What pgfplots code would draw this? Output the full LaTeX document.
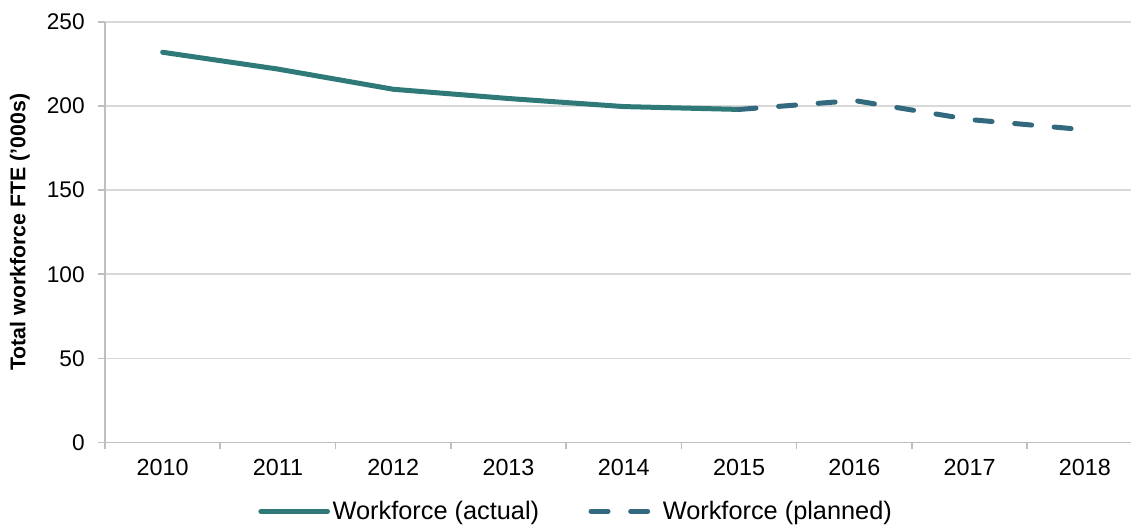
\documentclass[border=0pt]{standalone}
\usepackage{fontspec}
\setmainfont{Liberation Sans}
\usepackage{pgfplots}
\pgfplotsset{compat=1.18}
\definecolor{Actual}{HTML}{2F7A78}
\definecolor{Planned}{HTML}{33697F}
\definecolor{GridGrey}{HTML}{D9D9D9}
\definecolor{AxisGrey}{HTML}{BFBFBF}

\begin{document}
\begin{tikzpicture}
\begin{axis}[name=ax, scale only axis,
  width=769.5pt, height=315.3pt,
  xmin=-0.5, xmax=8.4, ymin=0, ymax=250,
  axis x line=bottom, axis y line=left,
  axis line style={-, draw=AxisGrey, line width=1.2pt},
  xtick={0,1,2,3,4,5,6,7,8},
  xticklabels={2010,2011,2012,2013,2014,2015,2016,2017,2018},
  minor xtick={-0.5,0.5,1.5,2.5,3.5,4.5,5.5,6.5,7.5},
  ytick={0,50,100,150,200,250},
  tick align=outside, major tick length=5.25pt, minor tick length=5.25pt,
  tick style={AxisGrey, line width=1.2pt},
  major x tick style={draw=none},
  ymajorgrids, grid style={GridGrey, line width=1.2pt},
  /pgf/number format/assume math mode=true,
  xticklabel style={font=\fontsize{17.5}{20}\selectfont},
  yticklabel style={font=\fontsize{17}{20}\selectfont},
  xticklabel shift=4pt, yticklabel shift=6.5pt,
  ylabel={Total workforce FTE ('000s)},
  ylabel style={at={(axis description cs:-0.0829,0.5)}, anchor=center,
    font=\bfseries\fontsize{16}{19}\selectfont},
  legend style={draw=none, at={(axis description cs:0.4595,-0.164)}, anchor=center,
    font=\fontsize{19}{22}\selectfont, inner sep=0pt,
    /tikz/every even column/.append style={column sep=35pt}},
  legend columns=2, legend cell align=left,
  legend image code/.code={\draw[#1] (0pt,0pt) -- (50pt,0pt);},
]
\addplot[Actual, line width=3.75pt, line cap=round, line join=round]
  coordinates {(0,232) (1,222) (2,210) (3,204.5) (4,199.7) (5,198)};
\addlegendentry{Workforce (actual)}
\addplot[Planned, line width=3.75pt, line cap=round, line join=round,
  dash pattern=on 12.75pt off 17pt]
  coordinates {(5,198) (6,203.3) (7,192) (8,185.9)};
\addlegendentry{Workforce (planned)}
\end{axis}
\pgfresetboundingbox
\path ([xshift=-78.75pt,yshift=-63.75pt]ax.south west) rectangle ([yshift=16.5pt]ax.north east);
\end{tikzpicture}
\end{document}
